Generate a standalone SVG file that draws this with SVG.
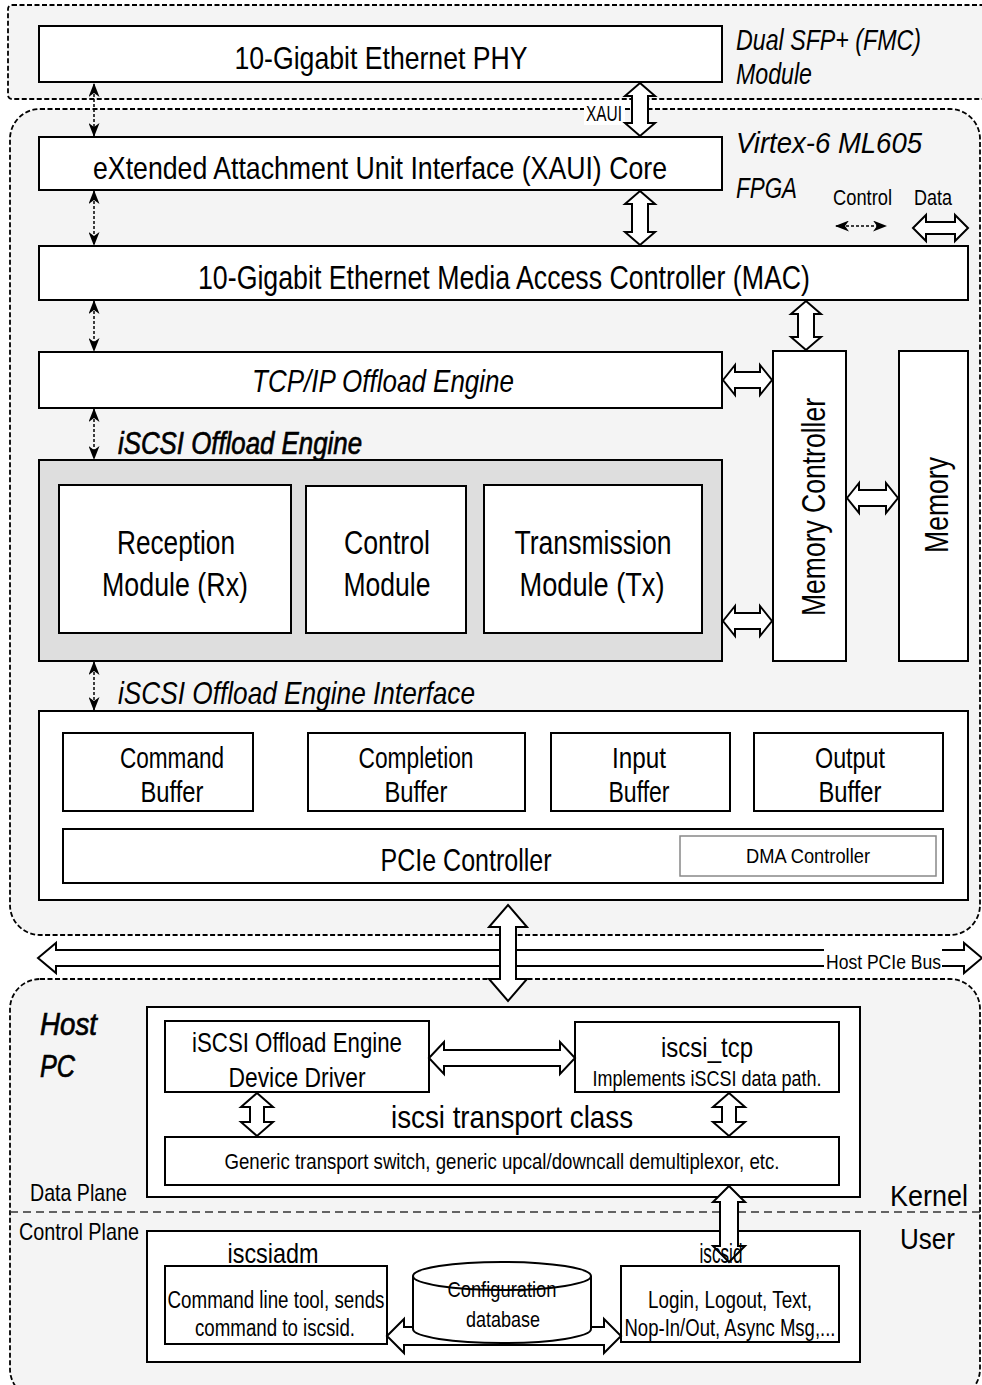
<svg xmlns="http://www.w3.org/2000/svg" width="982" height="1385" viewBox="0 0 982 1385">
<style>
text{font-family:"Liberation Sans","DejaVu Sans",sans-serif;fill:#000;}
.box{fill:#fff;stroke:#000;stroke-width:2;}
.region{fill:#f4f4f4;stroke:#000;stroke-width:1.8;stroke-dasharray:5,2.5;}
.it{font-style:italic;}
.heavy{stroke:#000;stroke-width:0.7;}
.m{text-anchor:middle;}
.ha{fill:#fff;stroke:#000;stroke-width:2;stroke-linejoin:miter;}
.ctl{stroke:#000;stroke-width:1.5;stroke-dasharray:3,2;fill:none;marker-start:url(#ah);marker-end:url(#ah);}
</style>
<defs>
<marker id="ah" viewBox="0 0 14 11" refX="13" refY="5.5" markerWidth="14" markerHeight="11" markerUnits="userSpaceOnUse" orient="auto-start-reverse">
<path d="M0,0 L14,5.5 L0,11 L4,5.5 z" fill="#000"/>
</marker>
</defs>
<rect width="982" height="1385" fill="#fff"/>

<g id="region-sfp">
<rect class="region" x="8" y="5" width="990" height="94" rx="4"/>
<text class="it" x="736" y="50" font-size="30" textLength="185" lengthAdjust="spacingAndGlyphs">Dual SFP+ (FMC)</text>
<text class="it" x="736" y="84" font-size="30" textLength="76" lengthAdjust="spacingAndGlyphs">Module</text>
</g>
<g id="region-fpga">
<rect class="region" x="10" y="109" width="970" height="826" rx="30"/>
<text class="it" x="736" y="153" font-size="29" textLength="186" lengthAdjust="spacingAndGlyphs">Virtex-6 ML605</text>
<text class="it" x="736" y="198" font-size="29" textLength="61" lengthAdjust="spacingAndGlyphs">FPGA</text>
</g>
<g id="region-host">
<rect class="region" x="10" y="979" width="970" height="420" rx="30"/>
<text class="it heavy" x="40" y="1035" font-size="32" textLength="57" lengthAdjust="spacingAndGlyphs">Host</text>
<text class="it heavy" x="40" y="1077" font-size="32" textLength="35" lengthAdjust="spacingAndGlyphs">PC</text>
<line x1="10" y1="1212" x2="982" y2="1212" stroke="#333" stroke-width="1.5" stroke-dasharray="8,5"/>
<text x="30" y="1201" font-size="24" textLength="97" lengthAdjust="spacingAndGlyphs">Data Plane</text>
<text x="19" y="1240" font-size="24" textLength="120" lengthAdjust="spacingAndGlyphs">Control Plane</text>
<text x="890" y="1206" font-size="30" textLength="78" lengthAdjust="spacingAndGlyphs">Kernel</text>
<text x="900" y="1249" font-size="30" textLength="55" lengthAdjust="spacingAndGlyphs">User</text>
</g>

<g id="phy">
<rect class="box" x="39" y="26" width="683" height="56"/>
<text class="m" x="381" y="69" font-size="32" textLength="293" lengthAdjust="spacingAndGlyphs">10-Gigabit Ethernet PHY</text>
</g>
<g id="xaui-core">
<rect class="box" x="39" y="137" width="683" height="53"/>
<text class="m" transform="scale(0.8,1)" x="475" y="179" font-size="32" textLength="717.5" lengthAdjust="spacingAndGlyphs">eXtended Attachment Unit Interface (XAUI) Core</text>
</g>
<g id="mac">
<rect class="box" x="39" y="246" width="929" height="54"/>
<text class="m" x="504" y="289" font-size="34" textLength="612" lengthAdjust="spacingAndGlyphs">10-Gigabit Ethernet Media Access Controller (MAC)</text>
</g>
<g id="tcpip">
<rect class="box" x="39" y="352" width="683" height="56"/>
<text class="m it" x="383" y="392" font-size="32" textLength="262" lengthAdjust="spacingAndGlyphs">TCP/IP Offload Engine</text>
</g>
<g id="legend">
<text x="833" y="205" font-size="22" textLength="59" lengthAdjust="spacingAndGlyphs">Control</text>
<text x="914" y="205" font-size="22" textLength="38" lengthAdjust="spacingAndGlyphs">Data</text>
</g>

<g id="iscsi-offload-engine">
<text class="it heavy" x="118" y="454" font-size="32" textLength="244" lengthAdjust="spacingAndGlyphs">iSCSI Offload Engine</text>
<rect x="39" y="460" width="683" height="201" fill="#dedede" stroke="#000" stroke-width="2"/>
</g>
<g id="rx">
<rect class="box" x="59" y="485" width="232" height="148"/>
<text class="m" x="176" y="554" font-size="34" textLength="118" lengthAdjust="spacingAndGlyphs">Reception</text>
<text class="m" x="175" y="596" font-size="34" textLength="146" lengthAdjust="spacingAndGlyphs">Module (Rx)</text>
</g>
<g id="ctrl-module">
<rect class="box" x="306" y="486" width="160" height="147"/>
<text class="m" x="387" y="554" font-size="34" textLength="86" lengthAdjust="spacingAndGlyphs">Control</text>
<text class="m" x="387" y="596" font-size="34" textLength="87" lengthAdjust="spacingAndGlyphs">Module</text>
</g>
<g id="tx">
<rect class="box" x="484" y="485" width="218" height="148"/>
<text class="m" x="593" y="554" font-size="34" textLength="157" lengthAdjust="spacingAndGlyphs">Transmission</text>
<text class="m" x="592" y="596" font-size="34" textLength="145" lengthAdjust="spacingAndGlyphs">Module (Tx)</text>
</g>
<g id="memory-controller">
<rect class="box" x="773" y="351" width="73" height="310"/>
<text class="m" transform="translate(825,507) rotate(-90)" font-size="34" textLength="218" lengthAdjust="spacingAndGlyphs">Memory Controller</text>
</g>
<g id="memory">
<rect class="box" x="899" y="351" width="69" height="310"/>
<text class="m" transform="translate(948,505) rotate(-90)" font-size="34" textLength="96" lengthAdjust="spacingAndGlyphs">Memory</text>
</g>

<g id="interface">
<text class="it" x="118" y="704" font-size="32" textLength="357" lengthAdjust="spacingAndGlyphs">iSCSI Offload Engine Interface</text>
<rect class="box" x="39" y="711" width="929" height="189"/>
</g>
<g id="cmd-buf">
<rect class="box" x="63" y="733" width="190" height="78"/>
<text class="m" x="172" y="768" font-size="30" textLength="104" lengthAdjust="spacingAndGlyphs">Command</text>
<text class="m" x="172" y="802" font-size="30" textLength="63" lengthAdjust="spacingAndGlyphs">Buffer</text>
</g>
<g id="cpl-buf">
<rect class="box" x="308" y="733" width="217" height="78"/>
<text class="m" x="416" y="768" font-size="30" textLength="115" lengthAdjust="spacingAndGlyphs">Completion</text>
<text class="m" x="416" y="802" font-size="30" textLength="63" lengthAdjust="spacingAndGlyphs">Buffer</text>
</g>
<g id="in-buf">
<rect class="box" x="551" y="733" width="179" height="78"/>
<text class="m" x="639" y="768" font-size="30" textLength="54" lengthAdjust="spacingAndGlyphs">Input</text>
<text class="m" x="639" y="802" font-size="30" textLength="61" lengthAdjust="spacingAndGlyphs">Buffer</text>
</g>
<g id="out-buf">
<rect class="box" x="754" y="733" width="189" height="78"/>
<text class="m" x="850" y="768" font-size="30" textLength="70" lengthAdjust="spacingAndGlyphs">Output</text>
<text class="m" x="850" y="802" font-size="30" textLength="63" lengthAdjust="spacingAndGlyphs">Buffer</text>
</g>
<g id="pcie">
<rect class="box" x="63" y="829" width="880" height="54"/>
<text class="m" x="466" y="871" font-size="32" textLength="171" lengthAdjust="spacingAndGlyphs">PCIe Controller</text>
<rect x="680" y="836" width="256" height="40" fill="#fff" stroke="#888" stroke-width="1.5"/>
<text class="m" x="808" y="863" font-size="20" textLength="124" lengthAdjust="spacingAndGlyphs">DMA Controller</text>
</g>

<g id="data-plane">
<rect class="box" x="147" y="1007" width="713" height="190"/>
<text class="m" x="512" y="1128" font-size="32" textLength="242" lengthAdjust="spacingAndGlyphs">iscsi transport class</text>
</g>
<g id="driver">
<rect class="box" x="165" y="1021" width="264" height="71"/>
<text class="m" x="297" y="1052" font-size="28" textLength="210" lengthAdjust="spacingAndGlyphs">iSCSI Offload Engine</text>
<text class="m" x="297" y="1087" font-size="28" textLength="137" lengthAdjust="spacingAndGlyphs">Device Driver</text>
</g>
<g id="iscsi-tcp">
<rect class="box" x="575" y="1022" width="264" height="70"/>
<text class="m" x="707" y="1057" font-size="28" textLength="92" lengthAdjust="spacingAndGlyphs">iscsi_tcp</text>
<text class="m" x="707" y="1086" font-size="22" textLength="229" lengthAdjust="spacingAndGlyphs">Implements iSCSI data path.</text>
</g>
<g id="generic">
<rect class="box" x="165" y="1137" width="674" height="48"/>
<text class="m" x="502" y="1169" font-size="22" textLength="555" lengthAdjust="spacingAndGlyphs">Generic transport switch, generic upcal/downcall demultiplexor, etc.</text>
</g>
<g id="control-plane">
<rect class="box" x="147" y="1231" width="713" height="131"/>
<text class="m" x="273" y="1263" font-size="28" textLength="91" lengthAdjust="spacingAndGlyphs">iscsiadm</text>
</g>
<g id="iscsiadm">
<rect class="box" x="165" y="1266" width="222" height="78"/>
<text class="m" x="276" y="1308" font-size="23" textLength="217" lengthAdjust="spacingAndGlyphs">Command line tool, sends</text>
<text class="m" x="275" y="1336" font-size="23" textLength="160" lengthAdjust="spacingAndGlyphs">command to iscsid.</text>
</g>
<g id="iscsid">
<rect class="box" x="621" y="1266" width="218" height="76"/>
<text class="m" x="730" y="1308" font-size="23" textLength="164" lengthAdjust="spacingAndGlyphs">Login, Logout, Text,</text>
<text class="m" x="730" y="1336" font-size="23" textLength="211" lengthAdjust="spacingAndGlyphs">Nop-In/Out, Async Msg,...</text>
</g>

<g id="connectors">
<line class="ctl" x1="94" y1="84" x2="94" y2="136"/>
<line class="ctl" x1="94" y1="191" x2="94" y2="245"/>
<line class="ctl" x1="94" y1="301" x2="94" y2="351"/>
<line class="ctl" x1="94" y1="409" x2="94" y2="459"/>
<line class="ctl" x1="94" y1="662" x2="94" y2="710"/>
<line class="ctl" x1="836" y1="226" x2="886" y2="226"/>
<polygon class="ha" points="913,228 926,215 926,222 955,222 955,215 968,228 955,241 955,234 926,234 926,241"/>
<rect x="584" y="101" width="41" height="24" fill="#fff"/>
<text x="586" y="121" font-size="22" textLength="36" lengthAdjust="spacingAndGlyphs">XAUI</text>
<polygon class="ha" points="640,83 655,96 648,96 648,123 655,123 640,136 625,123 632,123 632,96 625,96"/>
<polygon class="ha" points="640,191 655,204 648,204 648,232 655,232 640,245 625,232 632,232 632,204 625,204"/>
<polygon class="ha" points="806,301 821,314 814,314 814,337 821,337 806,350 791,337 798,337 798,314 791,314"/>
<polygon class="ha" points="723,380 735,365 735,372 760,372 760,365 772,380 760,395 760,388 735,388 735,395"/>
<polygon class="ha" points="723,621 735,606 735,613 760,613 760,606 772,621 760,636 760,629 735,629 735,636"/>
<polygon class="ha" points="847,498 859,483 859,490 886,490 886,483 898,498 886,513 886,506 859,506 859,513"/>
<polygon class="ha" points="38,958 56,943 56,950 964,950 964,943 982,958 964,973 964,966 56,966 56,973"/>
<rect x="824" y="944" width="118" height="27" fill="#fff"/>
<text x="826" y="969" font-size="20" textLength="115" lengthAdjust="spacingAndGlyphs">Host PCIe Bus</text>
<polygon class="ha" points="508,905 527,927 516,927 516,979 527,979 508,1001 489,979 500,979 500,927 489,927"/>
<polygon class="ha" points="429,1058 444,1042 444,1050 560,1050 560,1042 575,1058 560,1074 560,1066 444,1066 444,1074"/>
<polygon class="ha" points="257,1093 273,1107 264,1107 264,1122 273,1122 257,1136 241,1122 250,1122 250,1107 241,1107"/>
<polygon class="ha" points="729,1093 745,1107 736,1107 736,1122 745,1122 729,1136 713,1122 722,1122 722,1107 713,1107"/>
<polygon class="ha" points="729,1186 745,1202 738,1202 738,1246 745,1246 729,1262 713,1246 720,1246 720,1202 713,1202"/>
<polygon class="ha" points="387,1336 404,1319 404,1327 604,1327 604,1319 621,1336 604,1353 604,1345 404,1345 404,1353"/>
</g>

<g id="config-db">
<path d="M413,1276 L413,1329 A89,14 0 0 0 591,1329 L591,1276" fill="#fff" stroke="#000" stroke-width="2"/>
<ellipse cx="502" cy="1276" rx="89" ry="14" fill="#fff" stroke="#000" stroke-width="2"/>
<text class="m" x="502" y="1297" font-size="22" textLength="109" lengthAdjust="spacingAndGlyphs">Configuration</text>
<text class="m" x="503" y="1327" font-size="22" textLength="74" lengthAdjust="spacingAndGlyphs">database</text>
</g>
<g id="iscsid-label">
<text class="m" x="721" y="1263" font-size="28" textLength="43" lengthAdjust="spacingAndGlyphs">iscsid</text>
</g>
</svg>
